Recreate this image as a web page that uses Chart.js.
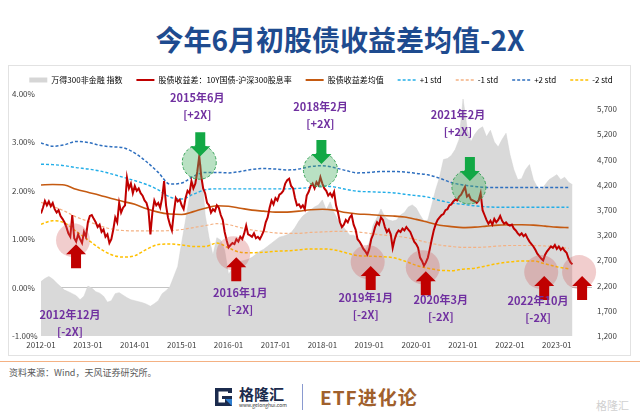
<!DOCTYPE html>
<html>
<head>
<meta charset="utf-8">
<script src="https://cdn.jsdelivr.net/npm/chart.js@4.4.1/dist/chart.umd.min.js"></script>
<style>
  body { margin: 0; width: 640px; height: 416px; background: #fff; position: relative; overflow: hidden; font-family: "Noto Sans CJK SC", sans-serif; }
  #title { position: absolute; left: 0; top: 25px; width: 680px; text-align: center; font-size: 28px; line-height: 28px; font-weight: bold; color: #1e4b8f; }
  #frame { position: absolute; left: 8px; top: 65px; width: 621px; height: 289px; border: 1px solid #e2e2e2; }
  #wrap { position: absolute; left: 8px; top: 62px; width: 622px; height: 294px; }
  #rule { position: absolute; left: 0; top: 361px; width: 640px; height: 1px; background: #f4b183; }
  #source { position: absolute; left: 9px; top: 366px; font-size: 9px; line-height: 14px; color: #595959; }
  #brand { position: absolute; left: 239px; top: 385px; font-size: 15px; line-height: 17px; font-weight: bold; color: #1b2b4d; }
  #brand small { display: block; font-size: 5px; line-height: 5px; font-weight: normal; color: #333; }
  #sep { position: absolute; left: 302px; top: 384px; width: 1px; height: 26px; background: #8a9ad0; }
  #etf { position: absolute; left: 320px; top: 385px; font-size: 19px; line-height: 24px; font-weight: bold; color: #a0602c; letter-spacing: 1px; }
  #mark { position: absolute; left: 596px; top: 398px; font-size: 11px; line-height: 14px; color: #d0d0d0; }
</style>
</head>
<body>
<div id="title">今年6月初股债收益差均值-2X</div>
<div id="frame"></div>
<div id="wrap"><canvas id="chart" width="622" height="294"></canvas></div>
<div id="rule"></div>
<div id="source">资料来源：Wind，天风证券研究所。</div>
<svg style="position:absolute;left:213px;top:386px" width="21" height="22" viewBox="0 0 21 22">
  <path d="M2 2 H19 V7 H15 V5.5 H5.5 V16.5 H12 V13 H9 V10 H19 V20 H2 Z" fill="#1b2b4d"/>
  <path d="M12 13 L19 13 L19 20 Z" fill="#2f7fd1"/>
</svg>
<div id="brand">格隆汇<small>www.gelonghui.com</small></div>
<div id="sep"></div>
<div id="etf">ETF进化论</div>
<div id="mark">格隆汇</div>

<script>
// x axis = months since 2012-01
const xTickLabels = ['2012-01', '2013-01', '2014-01', '2015-01', '2016-01', '2017-01',
                     '2018-01', '2019-01', '2020-01', '2021-01', '2022-01', '2023-01'];
const rightTicks = [1200, 1700, 2200, 2700, 3200, 3700, 4200, 4700, 5200, 5700];

// 股债收益差 (%), two readings per month, 2012-01 .. 2023-05
const spread = [
  1.53, 1.65, 1.79, 1.70, 1.78, 1.68, 1.75, 1.62, 1.55, 1.60, 1.48, 1.42, 1.35, 1.25, 1.12, 1.05, 1.50, 1.02, 0.95, 1.10, 1.00, 0.92, 1.15, 1.05,
  1.35, 1.48, 1.50, 1.42, 1.35, 1.25, 1.30, 1.15, 1.20, 1.05, 1.10, 0.92, 1.00, 1.20, 1.45, 1.35, 1.75, 1.55, 1.65, 1.70, 2.27, 2.05, 2.15, 1.95,
  2.10, 2.00, 2.05, 1.95, 1.90, 1.80, 1.75, 1.60, 1.10, 1.55, 1.80, 1.70, 1.75, 1.65, 1.85, 2.20, 1.70, 1.45, 1.30, 1.18, 1.55, 1.85, 1.78, 1.82,
  1.70, 1.62, 1.85, 2.00, 1.95, 2.20, 2.05, 2.15, 2.40, 2.72, 2.30, 2.05, 1.95, 1.75, 1.70, 1.55, 1.62, 1.58, 1.70, 1.65, 1.50, 1.40, 1.15, 0.98,
  0.83, 0.88, 0.92, 0.90, 1.00, 0.95, 1.05, 1.00, 1.12, 1.28, 1.10, 1.08, 1.05, 1.12, 1.02, 1.05, 1.00, 1.08, 1.17, 1.35, 1.45, 1.65, 1.80, 1.72,
  1.85, 1.80, 1.92, 1.95, 2.00, 2.15, 2.22, 2.25, 2.10, 2.05, 1.85, 1.70, 1.72, 1.65, 1.70, 1.62, 1.90, 1.98, 2.10, 2.15, 2.05, 2.18, 2.12, 2.28,
  2.15, 2.05, 2.00, 1.90, 1.95, 1.88, 1.98, 1.70, 1.55, 1.35, 1.25, 1.30, 1.40, 1.35, 1.45, 1.50, 1.30, 1.20, 1.00, 0.95, 0.88, 0.80, 0.75, 0.68,
  0.80, 1.00, 1.10, 1.25, 1.35, 1.30, 1.45, 1.40, 1.25, 1.15, 1.20, 1.10, 0.82, 1.00, 1.12, 1.18, 1.15, 1.22, 1.18, 1.25, 1.20, 1.15, 1.05, 0.95,
  0.90, 0.82, 0.62, 0.55, 0.45, 0.52, 0.62, 0.80, 1.00, 1.18, 1.31, 1.40, 1.45, 1.50, 1.52, 1.60, 1.62, 1.70, 1.72, 1.78, 1.82, 1.80, 1.88, 1.92,
  2.00, 2.08, 1.88, 1.92, 1.82, 1.80, 1.78, 1.75, 1.80, 1.95, 1.60, 1.50, 1.40, 1.32, 1.38, 1.30, 1.42, 1.35, 1.40, 1.48, 1.38, 1.32, 1.35, 1.30,
  1.28, 1.30, 1.22, 1.18, 1.12, 1.08, 1.12, 1.06, 1.10, 1.02, 0.95, 0.90, 0.85, 0.78, 0.70, 0.65, 0.60, 0.56, 0.68, 0.75, 0.80, 0.85, 0.82, 0.88,
  0.80, 0.85, 0.78, 0.82, 0.76, 0.72, 0.60, 0.52, 0.48
];

// 均值 and std bands (%), one reading per quarter
const spreadMean = [2.12, 2.13, 2.12, 2.03, 1.97, 1.91, 1.84, 1.78, 1.72, 1.63, 1.56, 1.52, 1.51, 1.57, 1.64, 1.69,
  1.68, 1.64, 1.60, 1.58, 1.56, 1.56, 1.58, 1.61, 1.62, 1.60, 1.55, 1.52, 1.51, 1.49, 1.48, 1.46,
  1.41, 1.35, 1.29, 1.26, 1.24, 1.25, 1.27, 1.29, 1.30, 1.30, 1.29, 1.27, 1.25, 1.24];
const plus1Std = [2.55, 2.54, 2.52, 2.48, 2.45, 2.41, 2.35, 2.28, 2.21, 2.13, 2.02, 1.87, 1.83, 1.93, 2.02, 2.04,
  2.04, 2.04, 2.04, 2.04, 2.04, 2.04, 2.05, 2.07, 2.10, 2.08, 2.03, 1.99, 1.98, 1.97, 1.96, 1.93,
  1.90, 1.87, 1.80, 1.75, 1.72, 1.69, 1.67, 1.66, 1.66, 1.66, 1.66, 1.66, 1.66, 1.66];
const minus1Std = [1.76, 1.68, 1.58, 1.46, 1.37, 1.28, 1.21, 1.18, 1.17, 1.17, 1.17, 1.18, 1.20, 1.24, 1.28, 1.32,
  1.30, 1.24, 1.19, 1.16, 1.13, 1.12, 1.12, 1.14, 1.15, 1.16, 1.16, 1.15, 1.12, 1.09, 1.07, 1.04,
  0.99, 0.93, 0.88, 0.85, 0.83, 0.83, 0.84, 0.86, 0.87, 0.87, 0.87, 0.86, 0.84, 0.81];
const plus2Std = [2.99, 2.92, 2.95, 3.02, 3.00, 2.94, 2.91, 2.89, 2.78, 2.60, 2.38, 2.14, 2.16, 2.30, 2.38, 2.38,
  2.37, 2.40, 2.44, 2.46, 2.45, 2.43, 2.45, 2.50, 2.52, 2.48, 2.42, 2.37, 2.38, 2.40, 2.40, 2.39,
  2.36, 2.33, 2.26, 2.17, 2.12, 2.09, 2.07, 2.07, 2.07, 2.07, 2.07, 2.07, 2.07, 2.07];
const minus2Std = [1.31, 1.38, 1.34, 1.16, 0.99, 0.81, 0.68, 0.63, 0.66, 0.79, 0.89, 0.90, 0.88, 0.85, 0.85, 0.92,
  0.82, 0.73, 0.72, 0.73, 0.75, 0.76, 0.78, 0.80, 0.80, 0.78, 0.72, 0.66, 0.65, 0.64, 0.62, 0.55,
  0.46, 0.40, 0.36, 0.35, 0.38, 0.40, 0.45, 0.50, 0.53, 0.55, 0.55, 0.49, 0.43, 0.39];

// 万得300非金融指数, monthly, right axis
const windIndex = [
  2280, 2340, 2380, 2330, 2250, 2180, 2110, 2080, 2040, 2000, 1920, 1990,
  2190, 2150, 2080, 2050, 1990, 1870, 1900, 2040, 2060, 2010, 1960, 1920,
  1900, 1880, 1860, 1830, 1790, 1840, 1900, 2040, 2100, 2180, 2380, 2580,
  3050, 3500, 3950, 4250, 4480, 4600, 3600, 3150, 2800, 3150, 3100, 2900,
  2420, 2550, 2620, 2680, 2700, 2720, 2760, 2820, 2880, 2920, 2980, 3040,
  3100, 3160, 3180, 3210, 3250, 3350, 3480, 3580, 3640, 3700, 3760, 3800,
  3900, 3700, 3860, 3650, 3500, 3400, 3300, 3200, 3200, 3150, 3000, 2920,
  3050, 3400, 3550, 3720, 3560, 3500, 3480, 3500, 3600, 3650, 3760, 3800,
  3740, 3600, 3480, 3500, 3800, 4100, 4350, 4700, 4720, 4780, 4900, 5100,
  5900, 5350, 5050, 5200, 5300, 5350, 5150, 5280, 5050, 4950, 5100, 5220,
  4800, 4500, 4300, 4320, 4500, 4600, 4300, 4150, 4100, 4200, 4300, 4350,
  4400, 4300, 4350, 4250, 4200
];

const legendNames = ['万得300非金融 指数', '股债收益差：10Y国债-沪深300股息率', '股债收益差均值', '+1 std', '-1 std', '+2 std', '-2 std'];

// marked turning points: circle at (month, %) and label at (month, %)
const events = [
  { kind: 'low',  m: 8.2,   v: 0.98, tm: 7.4,   tv: -0.57, date: '2012年12月', tag: '[-2X]' },
  { kind: 'high', m: 40.5,  v: 2.59, tm: 40.0,  tv: 3.92,  date: '2015年6月',  tag: '[+2X]' },
  { kind: 'low',  m: 49.2,  v: 0.71, tm: 51.0,  tv: -0.11, date: '2016年1月',  tag: '[-2X]' },
  { kind: 'high', m: 71.5,  v: 2.43, tm: 71.5,  tv: 3.73,  date: '2018年2月',  tag: '[+2X]' },
  { kind: 'low',  m: 83.6,  v: 0.53, tm: 83.1,  tv: -0.22, date: '2019年1月',  tag: '[-2X]' },
  { kind: 'low',  m: 97.7,  v: 0.42, tm: 102.3, tv: -0.26, date: '2020年3月',  tag: '[-2X]' },
  { kind: 'high', m: 109.5, v: 2.08, tm: 106.7, tv: 3.58,  date: '2021年2月',  tag: '[+2X]' },
  { kind: 'low',  m: 128.0, v: 0.32, tm: 127.2, tv: -0.28, date: '2022年10月', tag: '[-2X]' },
  { kind: 'low',  m: 137.7, v: 0.32 }
];

const toPoints = (vals, step) => vals.map((v, i) => ({ x: i * step, y: v }));

function drawArrow(ctx, x, tipY, dir, color) {
  // dir 1: arrow body below tip (points up), -1: body above tip (points down)
  ctx.beginPath();
  ctx.moveTo(x, tipY);
  ctx.lineTo(x + 10, tipY + dir * 10);
  ctx.lineTo(x + 5, tipY + dir * 10);
  ctx.lineTo(x + 5, tipY + dir * 24);
  ctx.lineTo(x - 5, tipY + dir * 24);
  ctx.lineTo(x - 5, tipY + dir * 10);
  ctx.lineTo(x - 10, tipY + dir * 10);
  ctx.closePath();
  ctx.fillStyle = color;
  ctx.fill();
}

const eventPlugin = {
  id: 'events',
  afterDatasetsDraw(chart) {
    const { ctx, scales: { x, y } } = chart;
    ctx.save();
    events.forEach(e => {
      const cx = x.getPixelForValue(e.m);
      const cy = y.getPixelForValue(e.v);
      const high = e.kind === 'high';
      ctx.beginPath();
      ctx.arc(cx, cy, 17, 0, Math.PI * 2);
      ctx.fillStyle = high ? 'rgba(80,180,105,0.4)' : 'rgba(210,90,90,0.3)';
      ctx.fill();
      if (high) {
        ctx.setLineDash([3, 2]);
        ctx.strokeStyle = '#3aa35a';
        ctx.lineWidth = 1;
        ctx.stroke();
        ctx.setLineDash([]);
      }
      if (high) drawArrow(ctx, cx + 1, cy - 6, -1, '#12a845');
      else drawArrow(ctx, cx + 3, cy + 4, 1, '#c00000');

      if (e.date) {
        const tx = x.getPixelForValue(e.tm);
        const ty = y.getPixelForValue(e.tv);
        ctx.font = 'bold 11px "Noto Sans CJK SC"';
        ctx.fillStyle = '#7030a0';
        ctx.textAlign = 'center';
        ctx.textBaseline = 'middle';
        ctx.fillText(e.date, tx, ty);
        ctx.fillText(e.tag, tx, ty + 17);
      }
    });
    ctx.restore();
  }
};

Chart.defaults.font.family = '"Noto Sans CJK SC", "Noto Sans", sans-serif';
Chart.defaults.color = '#404040';

const dashed = [3, 2];
const legendStyles = [
  { pointStyle: 'rect', fillStyle: '#d6d6d6', strokeStyle: '#d6d6d6', lineWidth: 0, lineDash: [] },
  { pointStyle: 'line', fillStyle: '#c00000', strokeStyle: '#c00000', lineWidth: 2, lineDash: [] },
  { pointStyle: 'line', fillStyle: '#c55a11', strokeStyle: '#c55a11', lineWidth: 2, lineDash: [] },
  { pointStyle: 'line', fillStyle: '#22aee8', strokeStyle: '#22aee8', lineWidth: 1.5, lineDash: dashed },
  { pointStyle: 'line', fillStyle: '#f4b183', strokeStyle: '#f4b183', lineWidth: 1.5, lineDash: dashed },
  { pointStyle: 'line', fillStyle: '#2e6fbf', strokeStyle: '#2e6fbf', lineWidth: 1.5, lineDash: dashed },
  { pointStyle: 'line', fillStyle: '#ffc000', strokeStyle: '#ffc000', lineWidth: 1.5, lineDash: dashed }
];

const smooth = { pointRadius: 0, borderDash: dashed, cubicInterpolationMode: 'monotone', yAxisID: 'y', order: 2 };

new Chart(document.getElementById('chart'), {
  type: 'line',
  data: {
    datasets: [
      { label: legendNames[0], data: toPoints(windIndex, 1), yAxisID: 'y1', order: 10,
        borderColor: '#d0d0d0', borderWidth: 0.5, backgroundColor: '#d9d9d9', fill: 'start', pointRadius: 0, tension: 0 },
      { label: legendNames[1], data: toPoints(spread, 0.5), yAxisID: 'y', order: 0,
        borderColor: '#c00000', borderWidth: 2, pointRadius: 0, tension: 0 },
      { label: legendNames[2], data: toPoints(spreadMean, 3), yAxisID: 'y', order: 1,
        borderColor: '#c55a11', borderWidth: 1.6, pointRadius: 0, cubicInterpolationMode: 'monotone' },
      { ...smooth, label: legendNames[3], data: toPoints(plus1Std, 3), borderColor: '#22aee8', borderWidth: 1.4 },
      { ...smooth, label: legendNames[4], data: toPoints(minus1Std, 3), borderColor: '#f4b183', borderWidth: 1.2 },
      { ...smooth, label: legendNames[5], data: toPoints(plus2Std, 3), borderColor: '#2e6fbf', borderWidth: 1.5 },
      { ...smooth, label: legendNames[6], data: toPoints(minus2Std, 3), borderColor: '#ffc000', borderWidth: 1.5 }
    ]
  },
  options: {
    responsive: false,
    animation: false,
    devicePixelRatio: 1,
    layout: { padding: { left: 4, right: 0, top: 0, bottom: 0 } },
    plugins: {
      tooltip: { enabled: false },
      legend: {
        position: 'top',
        labels: {
          usePointStyle: true,
          pointStyleWidth: 18,
          boxHeight: 5,
          padding: 14,
          color: '#333',
          font: { size: 8 },
          generateLabels: () => legendNames.map((text, i) => ({ text, datasetIndex: i, hidden: false, ...legendStyles[i] }))
        }
      }
    },
    scales: {
      x: {
        type: 'linear', min: 0, max: 141,
        grid: { display: false, drawTicks: false }, border: { display: false },
        ticks: {
          stepSize: 12, includeBounds: false, autoSkip: false, maxRotation: 0, padding: 4,
          font: { size: 8 },
          callback: v => xTickLabels[v / 12] || ''
        },
        afterFit: s => { s.height = 20; }
      },
      y: {
        position: 'left', min: -1, max: 4,
        border: { display: false },
        grid: { drawTicks: false, color: c => (c.tick && c.tick.value === 0 ? '#c4c4c4' : 'rgba(0,0,0,0)') },
        ticks: { stepSize: 1, crossAlign: 'far', font: { size: 8 }, callback: v => v.toFixed(2) + '%' },
        afterFit: s => { s.width = 29; }
      },
      y1: {
        position: 'right', min: 1200, max: 6000,
        border: { display: false },
        grid: { display: false, drawTicks: false },
        afterBuildTicks: s => { s.ticks = rightTicks.map(value => ({ value })); },
        ticks: { padding: 5, font: { size: 8 }, callback: v => v.toLocaleString('en-US') },
        afterFit: s => { s.width = 38; }
      }
    }
  },
  plugins: [eventPlugin]
});
</script>
</body>
</html>
